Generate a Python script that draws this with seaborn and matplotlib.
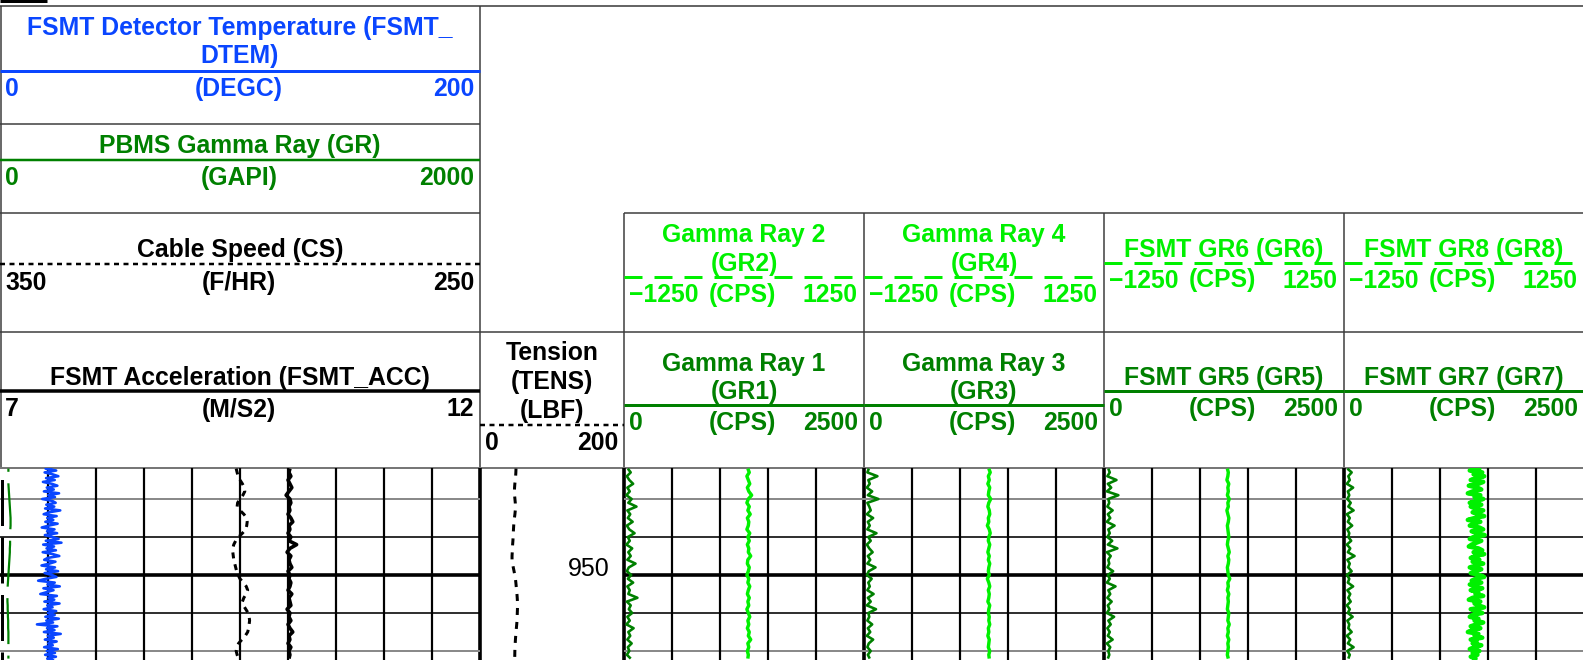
import numpy as np
import matplotlib
matplotlib.use("Agg")
import matplotlib.pyplot as plt
import seaborn as sns

# ---------------------------------------------------------------- data
DEPTH_COARSE_TOP, DEPTH_COARSE_STEP = 922.0, 1.0   # ft
DEPTH_FINE_TOP, DEPTH_FINE_STEP = 921.5, 0.5       # ft
DEPTH_VIEW = (921.84, 972.37)
GRID_DEPTHS = [930, 940, 950, 960, 970]
DEPTH_LABELS = [950]

# FSMT detector temperature (DEGC), 0.5 ft sampling
dtem = [
    22.1, 19.0, 23.4, 18.6, 21.9, 24.3, 19.2, 22.8, 17.9, 21.6,
    23.9, 19.5, 22.4, 18.3, 24.6, 20.1, 22.9, 17.6, 21.8, 23.2,
    19.3, 22.6, 18.8, 25.1, 20.4, 18.2, 23.6, 19.7, 22.2, 18.9,
    24.0, 20.3, 17.4, 22.7, 19.6, 23.8, 18.7, 21.9, 24.4, 19.1,
    25.6, 18.0, 22.5, 19.4, 23.3, 17.8, 22.0, 24.7, 19.9, 18.4,
    23.1, 20.6, 17.3, 22.9, 19.2, 24.2, 18.6, 21.7, 23.5, 19.0,
    15.9, 22.8, 19.8, 24.9, 18.1, 22.3, 19.5, 16.8, 23.7, 20.2,
    22.6, 18.5, 24.8, 19.7, 21.9, 18.2, 23.4, 20.0, 22.8, 18.9,
    24.5, 19.3, 22.1, 15.4, 23.9, 19.6, 22.7, 18.3, 25.3, 19.9,
    22.4, 18.7, 23.6, 20.1, 22.0, 18.4, 24.1, 19.5, 22.9, 18.8,
    23.3, 19.7, 22.5]

# PBMS gamma ray (GAPI), 1 ft
pbms_gr = [
    35, 35, 35, 35, 35, 36, 37, 38, 39, 40,
    41, 42, 43, 44, 44, 44, 43, 42, 42, 42,
    42, 41, 41, 40, 39, 38, 37, 36, 35, 34,
    33, 32, 32, 31, 31, 31, 32, 32, 33, 33,
    34, 34, 34, 35, 35, 35, 35, 35, 35, 35,
    35]

# Cable speed (F/HR), 1 ft
cable_speed = [
    300.8, 300.6, 300.4, 300.0, 299.5, 299.1, 299.0, 299.4, 300.0, 300.5,
    300.6, 300.0, 299.2, 298.6, 298.5, 298.6, 298.8, 299.5, 300.3, 300.9,
    301.3, 301.5, 301.5, 301.4, 301.3, 301.1, 300.9, 300.7, 300.4, 300.0,
    299.3, 298.7, 298.4, 298.7, 299.2, 299.5, 299.3, 298.8, 298.3, 298.1,
    298.0, 298.1, 298.2, 298.4, 298.9, 299.6, 300.3, 300.7, 300.8, 300.6,
    300.3]

# FSMT acceleration (M/S2), 1 ft
fsmt_acc = [
    10.02, 10.01, 10.03, 10.00, 10.02, 10.04, 10.01, 9.98, 10.02, 10.03,
    10.01, 10.02, 10.00, 10.03, 10.05, 10.01, 10.02, 10.00, 10.03, 10.01,
    10.09, 10.02, 9.99, 10.03, 10.01, 10.02, 10.04, 10.00, 10.02, 10.01,
    10.03, 10.02, 10.00, 10.04, 10.01, 10.02, 10.03, 9.99, 10.02, 10.01,
    10.03, 10.00, 10.02, 10.05, 10.01, 10.02, 10.00, 10.03, 10.01, 10.02,
    10.01]

# Tension (LBF), 1 ft
tension = [
    50.0, 49.8, 49.5, 49.0, 48.4, 48.0, 47.8, 48.0, 48.5, 49.0,
    49.1, 49.0, 48.5, 47.8, 47.2, 46.8, 46.5, 46.2, 46.0, 45.7,
    45.3, 45.0, 44.8, 44.5, 44.5, 45.2, 46.2, 47.3, 48.3, 49.2,
    49.8, 50.3, 50.8, 51.3, 51.7, 52.0, 52.1, 52.0, 51.8, 51.6,
    51.4, 51.0, 50.5, 50.0, 49.6, 49.2, 48.9, 48.6, 48.4, 48.3,
    48.2]

# Gamma ray channels (CPS), 1 ft
gr1 = [40, 70, 30, 55, 95, 35, 60, 25, 80, 45,
       130, 35, 65, 40, 90, 30, 55, 110, 40, 60,
       25, 85, 45, 70, 35, 120, 50, 30, 75, 40,
       95, 35, 60, 45, 140, 30, 70, 50, 85, 35,
       60, 25, 100, 45, 65, 35, 80, 40, 55, 30, 70]
gr3 = [50, 35, 140, 45, 60, 30, 85, 40, 150, 35,
       55, 70, 30, 95, 40, 60, 35, 130, 45, 70,
       30, 55, 90, 40, 65, 35, 120, 50, 30, 80,
       45, 60, 35, 100, 40, 70, 30, 125, 45, 55,
       35, 85, 40, 65, 30, 95, 50, 35, 70, 40, 60]
gr5 = [45, 60, 35, 130, 40, 75, 30, 150, 45, 55,
       35, 90, 40, 65, 30, 110, 45, 60, 35, 85,
       40, 140, 30, 70, 45, 55, 35, 95, 40, 60,
       30, 120, 45, 65, 35, 80, 40, 55, 30, 105,
       45, 70, 35, 60, 40, 90, 30, 65, 45, 55, 40]
gr7 = [35, 80, 45, 60, 30, 95, 40, 55, 35, 70,
       45, 100, 30, 60, 40, 85, 35, 55, 45, 75,
       30, 65, 40, 110, 35, 60, 45, 80, 30, 55,
       40, 95, 35, 65, 45, 70, 30, 60, 40, 90,
       35, 55, 45, 80, 30, 65, 40, 100, 35, 60, 45]
gr2 = [40, 55, 30, 45, 60, 35, 50, 80, 45, 30,
       55, 40, 65, 35, 50, 45, 30, 60, 40, 55,
       35, 50, 45, 70, 40, 35, 55, 45, 30, 50,
       40, 60, 45, 35, 55, 40, 50, 30, 45, 60,
       40, 50, 35, 55, 45, 70, 40, 50, 35, 45, 40]
gr4 = [50, 65, 45, 55, 40, 60, 50, 45, 70, 50,
       40, 55, 60, 45, 50, 35, 55, 65, 50, 45,
       60, 50, 40, 55, 45, 60, 50, 45, 55, 35,
       50, 60, 45, 55, 50, 40, 60, 50, 45, 55,
       50, 60, 45, 50, 40, 55, 50, 45, 60, 50, 55]
gr6 = [35, 45, 40, 30, 50, 40, 45, 35, 55, 40,
       45, 30, 40, 50, 45, 35, 40, 45, 50, 40,
       35, 45, 55, 40, 50, 45, 35, 40, 45, 60,
       40, 45, 35, 50, 40, 45, 40, 35, 50, 45,
       40, 55, 40, 45, 35, 50, 40, 45, 40, 35, 45]
# GR8, 0.5 ft
gr8 = [80, 160, 60, 190, 100, 210, 130, 70, 200, 150,
       50, 140, 180, 90, 40, 170, 110, 200, 130, 60,
       180, 70, 120, 200, 90, 150, 210, 110, 40, 170,
       100, 60, 160, 200, 80, 140, 215, 100, 60, 180,
       130, 80, 50, 150, 190, 100, 210, 120, 70, 160,
       90, 200, 130, 60, 180, 110, 70, 160, 210, 120,
       80, 180, 60, 110, 190, 70, 150, 120, 200, 90,
       50, 170, 110, 150, 210, 70, 130, 190, 90, 60,
       150, 110, 200, 130, 70, 170, 90, 40, 150, 110,
       190, 70, 130, 90, 180, 110, 60, 160, 90, 140,
       70, 120, 100]

# header texts / scales
left_titles = [["FSMT Detector Temperature (FSMT_", "DTEM)"],
               ["PBMS Gamma Ray (GR)"],
               ["Cable Speed (CS)"],
               ["FSMT Acceleration (FSMT_ACC)"]]
left_units = ["(DEGC)", "(GAPI)", "(F/HR)", "(M/S2)"]
left_scales = [(0, 200), (0, 2000), (350, 250), (7, 12)]
tension_title = ["Tension", "(TENS)", "(LBF)"]
tension_scale = (0, 200)
gr_upper_titles = [["Gamma Ray 2", "(GR2)"], ["Gamma Ray 4", "(GR4)"],
                   ["FSMT GR6 (GR6)"], ["FSMT GR8 (GR8)"]]
gr_lower_titles = [["Gamma Ray 1", "(GR1)"], ["Gamma Ray 3", "(GR3)"],
                   ["FSMT GR5 (GR5)"], ["FSMT GR7 (GR7)"]]
gr_unit = "(CPS)"
gr_upper_scale = (-1250, 1250)
gr_lower_scale = (0, 2500)

# ---------------------------------------------------------------- style
W, H = 1583, 660
PX = 0.72  # points per pixel at dpi 100
sns.set_style("white")
plt.rcParams["font.family"] = ["Liberation Sans", "DejaVu Sans"]
plt.rcParams["lines.scale_dashes"] = False
plt.rcParams["lines.solid_capstyle"] = "butt"
plt.rcParams["lines.dash_capstyle"] = "butt"

BLUE = "#0a46ff"
GREEN = "#008000"
LIME = "#00f000"
BLACK = "#000000"
FRAME = "#3a3a3a"
FS = 17.8

DATA_Y0 = 468
LEFT_X = (0, 480)
TENS_X = (480, 624)
GR_COLS = [624, 864, 1104, 1344]
GR_W = 240

fig = plt.figure(figsize=(W / 100, H / 100), dpi=100)
bg = fig.add_axes([0, 0, 1, 1])
bg.set_xlim(0, W)
bg.set_ylim(H, 0)
bg.axis("off")


def seg(x0, y0, x1, y1, color=FRAME, lw=1.5, ls="-"):
    bg.plot([x0, x1], [y0, y1], color=color, lw=lw * PX, ls=ls)


def txt(x, y, s, color, ha="center", size=FS, weight="bold"):
    bg.text(x, y, s, color=color, ha=ha, va="baseline", fontsize=size,
            fontweight=weight)


def fmt(v):
    return str(v).replace("-", "\u2212")


DOT = (0, (5 * PX, 4.5 * PX))
DASH = (0, (18 * PX, 12 * PX))

# ---------------------------------------------------------------- frame
seg(0, 1, 47, 1, color=BLACK, lw=3)
seg(0, 6, W, 6, color="#666666", lw=2)
seg(1, 6, 1, DATA_Y0, lw=1.5)
seg(480, 6, 480, DATA_Y0, lw=1.5)
seg(0, 124, 480, 124)
seg(0, 213, 480, 213)
seg(624, 213, W, 213)
seg(0, 332, W, 332)
for cx in GR_COLS:
    seg(cx, 213, cx, DATA_Y0)
seg(0, DATA_Y0, W, DATA_Y0, color="#777777", lw=2)

# ---------------------------------------------------------------- left header
left_layout = [  # title baselines, scale line y, label baseline
    ([35, 63.5], 70.5, 96),
    ([153], 159.5, 185),
    ([257.5], 264, 290),
    ([384.5], 391, 416.5),
]
left_colors = [BLUE, GREEN, BLACK, BLACK]
left_line = [("-", 3), ("-", 2.5), (DOT, 2.5), ("-", 3.5)]
for i in range(4):
    bls, ly, lb = left_layout[i]
    c = left_colors[i]
    for s, b in zip(left_titles[i], bls):
        txt(240, b, s, c)
    ls, lw = left_line[i]
    seg(0, ly, 480, ly, color=c, lw=lw, ls=ls)
    lo, hi = left_scales[i]
    txt(5, lb, fmt(lo), c, ha="left")
    txt(239, lb, left_units[i], c)
    txt(474, lb, fmt(hi), c, ha="right")

# tension header
for s, b in zip(tension_title, [360, 389, 418]):
    txt(552, b, s, BLACK)
seg(480, 425, 624, 425, color=BLACK, lw=2.5, ls=DOT)
txt(485, 450, fmt(tension_scale[0]), BLACK, ha="left")
txt(618, 450, fmt(tension_scale[1]), BLACK, ha="right")

# GR headers
for j, cx in enumerate(GR_COLS):
    up = gr_upper_titles[j]
    if len(up) == 2:
        bls, ly, lb = [242, 271.5], 277, 302
    else:
        bls, ly, lb = [256.5], 263, 287.5
    for s, b in zip(up, bls):
        txt(cx + 120, b, s, LIME)
    seg(cx, ly, cx + GR_W, ly, color=LIME, lw=3, ls=DASH)
    txt(cx + 5, lb, fmt(gr_upper_scale[0]), LIME, ha="left")
    txt(cx + 118, lb, gr_unit, LIME)
    txt(cx + 234, lb, fmt(gr_upper_scale[1]), LIME, ha="right")

    lo_t = gr_lower_titles[j]
    if len(lo_t) == 2:
        bls, ly, lb = [370.5, 398.5], 405, 430
    else:
        bls, ly, lb = [385], 391, 416
    for s, b in zip(lo_t, bls):
        txt(cx + 120, b, s, GREEN)
    seg(cx, ly, cx + GR_W, ly, color=GREEN, lw=3)
    txt(cx + 5, lb, fmt(gr_lower_scale[0]), GREEN, ha="left")
    txt(cx + 118, lb, gr_unit, GREEN)
    txt(cx + 234, lb, fmt(gr_lower_scale[1]), GREEN, ha="right")

# ---------------------------------------------------------------- data tracks
def rect(x0, x1):
    return [x0 / W, 0.0, (x1 - x0) / W, (H - DATA_Y0) / H]


all_axes = []


def track_axes(x0, x1, xlim):
    ax = fig.add_axes(rect(x0, x1), facecolor="none")
    ax.set_xlim(*xlim)
    ax.set_ylim(DEPTH_VIEW[1], DEPTH_VIEW[0])
    ax.axis("off")
    all_axes.append((ax, xlim))
    return ax


def curve(ax, values, top, step, color, lw_px, ls="-"):
    depth = top + step * np.arange(len(values))
    sns.lineplot(x=values, y=depth, ax=ax, orient="y", sort=False,
                 estimator=None, color=color, linewidth=lw_px * PX,
                 linestyle=ls, legend=False)


GRID_STYLE = {930: ("#8a8a8a", 2.0), 940: (BLACK, 1.6), 950: (BLACK, 3.6),
              960: (BLACK, 1.6), 970: ("#8a8a8a", 2.0)}


def grid(x0, x1, ndiv):
    ax = track_axes(x0, x1, (0, ndiv))
    for d in GRID_DEPTHS:
        c, lw = GRID_STYLE[d]
        ax.axhline(d, color=c, lw=lw * PX)
    for k in range(1, ndiv):
        ax.axvline(k, color=BLACK, lw=2.2 * PX)
    return ax


grid(*LEFT_X, 10)
for cx in GR_COLS:
    grid(cx, cx + GR_W, 5)

# column borders inside the data area
for bx in [480] + GR_COLS:
    seg(bx, DATA_Y0, bx, H, color=BLACK, lw=3.6)

# left edge marker (dashed)
EDGE_DASH = (46 * PX, (46 * PX, 11.5 * PX))
ax_edge = track_axes(*LEFT_X, (0, 480))
ax_edge.plot([1.5, 1.5], [DEPTH_VIEW[0], DEPTH_VIEW[1]], color=BLACK,
             lw=3 * PX, ls=EDGE_DASH)

# left track curves
ax_gr = track_axes(*LEFT_X, left_scales[1])
curve(ax_gr, pbms_gr, DEPTH_COARSE_TOP, DEPTH_COARSE_STEP, GREEN, 2.2,
      ls=(46 * PX - 2.3, (46 * PX, 11.5 * PX)))
ax_cs = track_axes(*LEFT_X, left_scales[2])
curve(ax_cs, cable_speed, DEPTH_COARSE_TOP, DEPTH_COARSE_STEP, BLACK, 3,
      ls=(0, (6 * PX, 6 * PX)))
ax_acc = track_axes(*LEFT_X, left_scales[3])
curve(ax_acc, fsmt_acc, DEPTH_COARSE_TOP, DEPTH_COARSE_STEP, BLACK, 3.6)
ax_dt = track_axes(*LEFT_X, left_scales[0])
curve(ax_dt, dtem, DEPTH_FINE_TOP, DEPTH_FINE_STEP, BLUE, 2.6)

# tension / depth track
ax_t = track_axes(*TENS_X, tension_scale)
curve(ax_t, tension, DEPTH_COARSE_TOP, DEPTH_COARSE_STEP, BLACK, 3,
      ls=(0, (7 * PX, 7 * PX)))
for d in DEPTH_LABELS:
    ax_t.text(151, d + 0.3, str(d), ha="center", va="baseline",
              fontsize=18, fontweight="normal", color=BLACK)

# gamma ray tracks
lower = [gr1, gr3, gr5, gr7]
upper = [gr2, gr4, gr6, gr8]
for j, cx in enumerate(GR_COLS):
    axl = track_axes(cx, cx + GR_W, gr_lower_scale)
    curve(axl, lower[j], DEPTH_COARSE_TOP, DEPTH_COARSE_STEP, GREEN, 2.6)
    axu = track_axes(cx, cx + GR_W, gr_upper_scale)
    if len(upper[j]) > 60:
        curve(axu, upper[j], DEPTH_FINE_TOP, DEPTH_FINE_STEP, LIME, 4.5)
    else:
        curve(axu, upper[j], DEPTH_COARSE_TOP, DEPTH_COARSE_STEP, LIME, 3.4)

for ax, xl in all_axes:
    ax.set_xlim(*xl)
    ax.set_ylim(DEPTH_VIEW[1], DEPTH_VIEW[0])
    ax.axis("off")

fig.savefig("out.png", dpi=100)
